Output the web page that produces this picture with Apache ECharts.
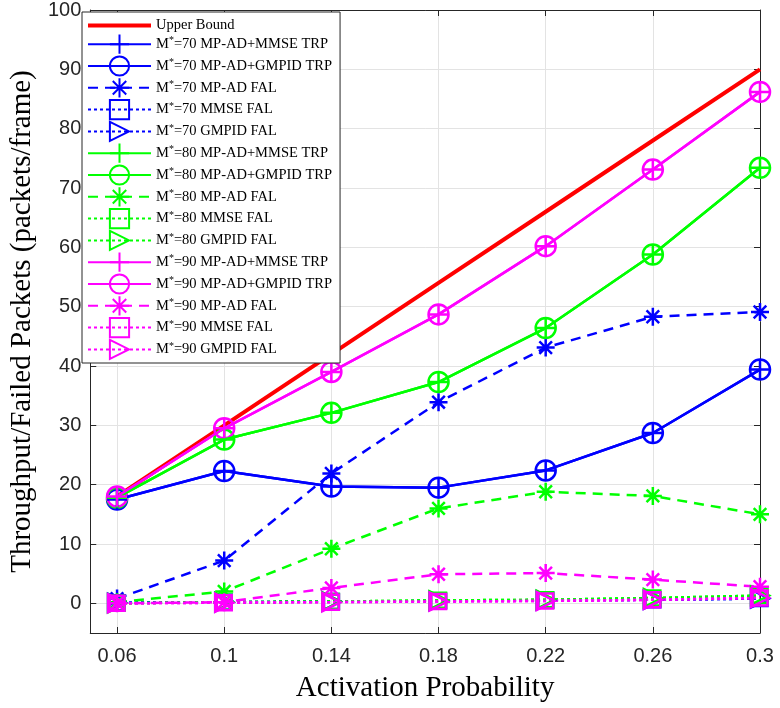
<!DOCTYPE html>
<html>
<head>
<meta charset="utf-8">
<script src="https://cdn.jsdelivr.net/npm/echarts@6/dist/echarts.min.js"></script>
<style>
  html, body { margin: 0; padding: 0; background: #fff; }
  #main { width: 780px; height: 708px; }
</style>
</head>
<body>
<div id="main"></div>
<script>
// activation probability (x) and tick labels
const probs = [0.06, 0.1, 0.14, 0.18, 0.22, 0.26, 0.3];
const yTicks = [0, 10, 20, 30, 40, 50, 60, 70, 80, 90, 100];

// values
const upperBound = [18, 30, 42, 54, 66, 78, 90];

const trp70 = [17.5, 22.3, 19.7, 19.5, 22.4, 28.7, 39.4];
const falAd70 = [0.8, 7.2, 21.9, 33.9, 43.1, 48.3, 49.1];
const falMmse70 = [0.1, 0.2, 0.3, 0.4, 0.5, 0.6, 0.8];
const falGmpid70 = [0.1, 0.2, 0.3, 0.4, 0.5, 0.6, 0.8];

const trp80 = [17.8, 27.6, 32.1, 37.3, 46.4, 58.8, 73.4];
const falAd80 = [0.2, 2.0, 9.2, 16.0, 18.8, 18.1, 15.0];
const falMmse80 = [0.0, 0.2, 0.3, 0.5, 0.6, 0.9, 1.3];
const falGmpid80 = [0.0, 0.2, 0.3, 0.5, 0.6, 0.9, 1.3];

const trp90 = [18.0, 29.5, 39.0, 48.7, 60.2, 73.1, 86.2];
const falAd90 = [0.0, 0.2, 2.6, 4.9, 5.1, 4.0, 2.8];
const falMmse90 = [0.0, 0.1, 0.2, 0.3, 0.4, 0.6, 0.9];
const falGmpid90 = [0.0, 0.1, 0.2, 0.3, 0.4, 0.6, 0.9];

const PLUS = 'path://M10,0L10,20M0,10L20,10';
const STAR = 'path://M10,0L10,20M0,10L20,10M3,3L17,17M3,17L17,3';

function pairs(vals) {
    return probs.map((p, i) => [p, vals[i]]);
}

// one line series
function mk(name, vals, color, opts) {
    return {
        name: name,
        type: 'line',
        data: pairs(vals),
        symbol: opts.symbol || 'none',
        symbolSize: opts.size || 20,
        symbolRotate: opts.rotate || 0,
        z: opts.z || 2,
        lineStyle: { color: color, width: opts.width || 2.5, type: opts.type || 'solid' },
        itemStyle: {
            color: opts.fill ? color : 'rgba(0,0,0,0)',
            borderColor: color,
            borderWidth: opts.fill ? 0 : 2.5
        },
        emphasis: { disabled: true }
    };
}

function group(m, color, trp, falAd, falMmse, falGmpid) {
    return [
        mk('M*=' + m + ' MP-AD+MMSE TRP', trp, color, { symbol: PLUS, size: 20, z: 4 }),
        mk('M*=' + m + ' MP-AD+GMPID TRP', trp, color, { symbol: 'circle', size: 20, z: 3 }),
        mk('M*=' + m + ' MP-AD FAL', falAd, color, { symbol: STAR, size: 18, type: [10, 7], z: 3 }),
        mk('M*=' + m + ' MMSE FAL', falMmse, color, { symbol: 'rect', size: 15, type: [3, 3], z: 3 }),
        mk('M*=' + m + ' GMPID FAL', falGmpid, color, { symbol: 'triangle', size: 18, rotate: -90, type: [3, 3], z: 3 })
    ];
}

const series = [
    mk('Upper Bound', upperBound, '#ff0000', { width: 4, z: 2, fill: true })
].concat(
    group(70, '#0000ff', trp70, falAd70, falMmse70, falGmpid70),
    group(80, '#00ff00', trp80, falAd80, falMmse80, falGmpid80),
    group(90, '#ff00ff', trp90, falAd90, falMmse90, falGmpid90)
);

const legendData = series.map(s => s.name === 'Upper Bound'
    ? {
        name: s.name,
        icon: 'path://M0,0H63V4H0Z',
        itemStyle: { color: '#ff0000', borderWidth: 0 },
        textStyle: { fontWeight: 'normal', color: '#000', textBorderWidth: 0 }
    }
    : { name: s.name });

const axisColor = '#262626';
const gridColor = '#e3e3e3';

const option = {
    animation: false,
    backgroundColor: '#fff',
    grid: { left: 81, right: 20, top: 10, bottom: 70, show: false },
    legend: {
        orient: 'vertical',
        left: 82,
        top: 12,
        padding: [6, 8, 3, 5],
        itemWidth: 63,
        itemHeight: 24,
        itemGap: 0.6,
        backgroundColor: '#fff',
        borderColor: axisColor,
        borderWidth: 1,
        borderRadius: 0,
        z: 10,
        data: legendData,
        formatter: function (name) {
            return name.replace('M*', 'M{s|*}');
        },
        textStyle: {
            fontFamily: 'Liberation Serif',
            fontSize: 14.5,
            fontWeight: 'normal',
            color: '#000',
            rich: {
                s: { fontFamily: 'Liberation Serif', fontSize: 10, color: '#000', padding: [0, 0, 7, 0] }
            }
        }
    },
    xAxis: [
        {
            type: 'value',
            min: 0.05,
            max: 0.3,
            name: 'Activation Probability',
            nameLocation: 'middle',
            nameGap: 41,
            nameTextStyle: { fontFamily: 'Liberation Serif', fontSize: 29, color: '#000' },
            axisLine: { show: true, onZero: false, lineStyle: { color: axisColor, width: 1 } },
            axisTick: { show: true, inside: true, length: 6, customValues: probs, lineStyle: { color: axisColor } },
            axisLabel: {
                customValues: probs,
                margin: 13,
                fontFamily: 'Liberation Sans',
                fontSize: 20,
                color: '#262626',
                formatter: v => String(+v.toFixed(2))
            },
            splitLine: { show: true, lineStyle: { color: gridColor, width: 1 } }
        },
        {
            type: 'value',
            position: 'top',
            min: 0.05,
            max: 0.3,
            axisLine: { show: true, onZero: false, lineStyle: { color: axisColor, width: 1 } },
            axisTick: { show: true, inside: true, length: 6, customValues: probs, lineStyle: { color: axisColor } },
            axisLabel: { show: false },
            splitLine: { show: false }
        }
    ],
    yAxis: [
        {
            type: 'value',
            min: -5,
            max: 100,
            name: 'Throughput/Failed Packets (packets/frame)',
            nameLocation: 'middle',
            nameGap: 42,
            nameTextStyle: { fontFamily: 'Liberation Serif', fontSize: 29, color: '#000' },
            axisLine: { show: true, onZero: false, lineStyle: { color: axisColor, width: 1 } },
            axisTick: { show: true, inside: true, length: 6, customValues: yTicks, lineStyle: { color: axisColor } },
            axisLabel: {
                customValues: yTicks,
                margin: 9,
                fontFamily: 'Liberation Sans',
                fontSize: 20,
                color: '#262626'
            },
            splitLine: { show: true, lineStyle: { color: gridColor, width: 1 } }
        },
        {
            type: 'value',
            position: 'right',
            min: -5,
            max: 100,
            axisLine: { show: true, onZero: false, lineStyle: { color: axisColor, width: 1 } },
            axisTick: { show: true, inside: true, length: 6, customValues: yTicks, lineStyle: { color: axisColor } },
            axisLabel: { show: false },
            splitLine: { show: false }
        }
    ],
    series: series
};

const chart = echarts.init(document.getElementById('main'));
chart.setOption(option);
</script>
</body>
</html>
